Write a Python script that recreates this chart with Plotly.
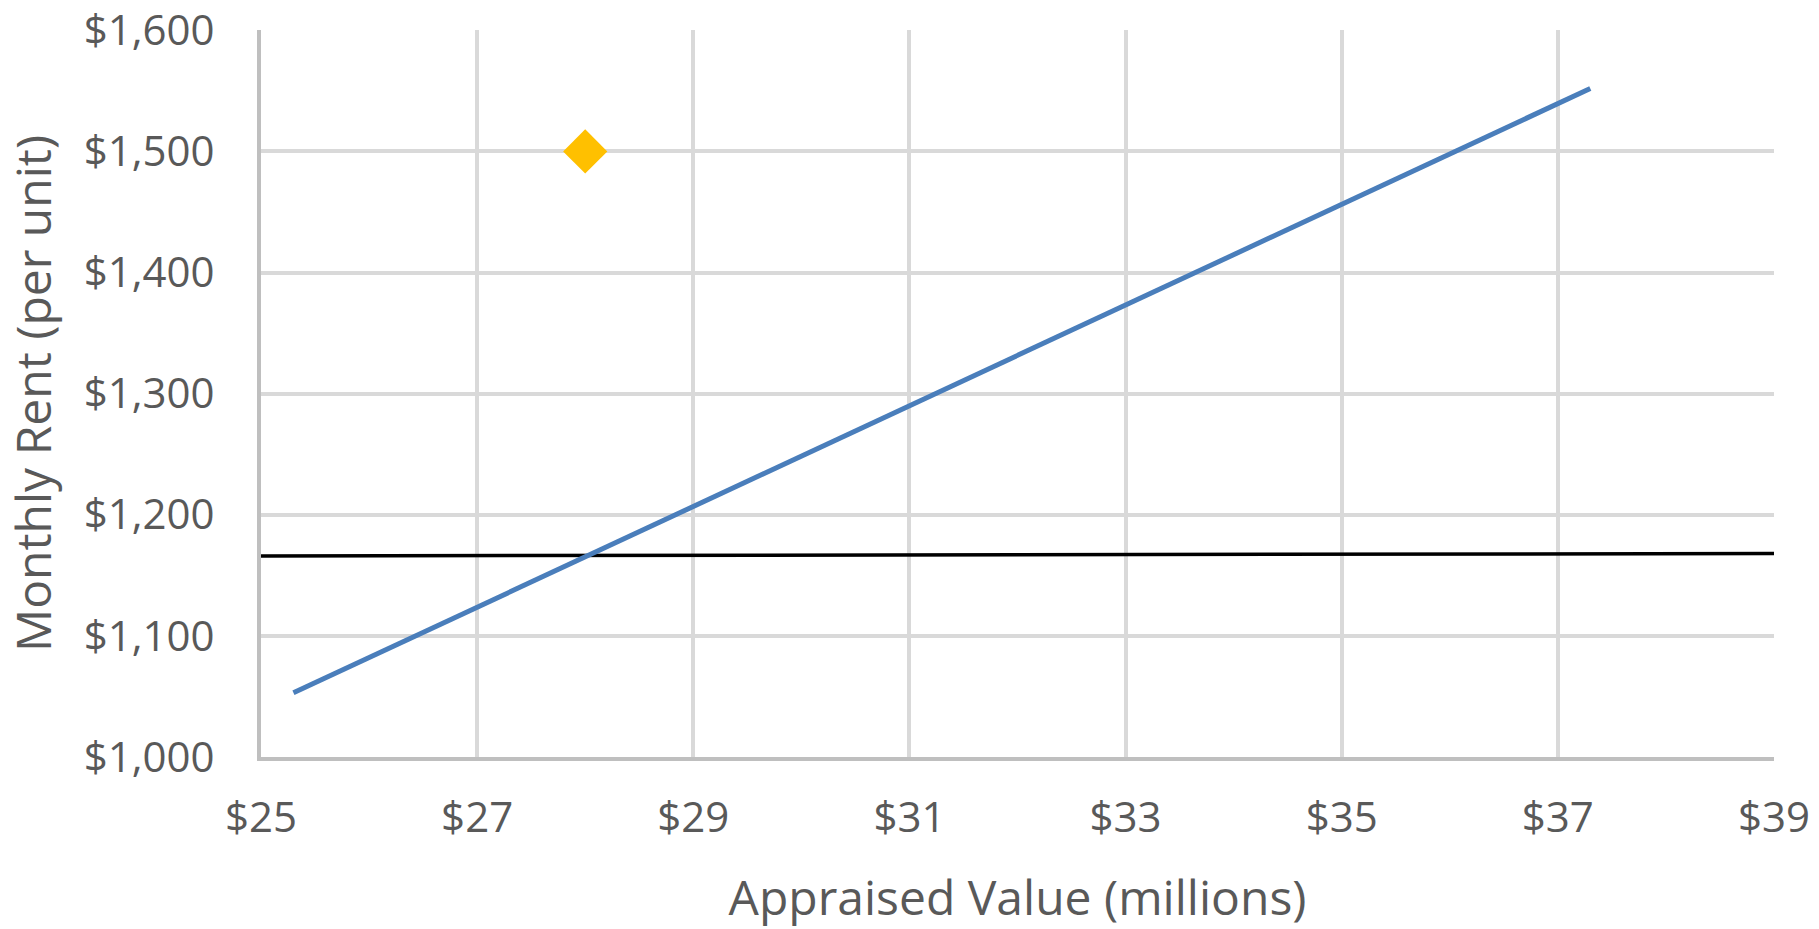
import plotly.graph_objects as go

# Data
trend_x = [25.3, 28.3, 31.3, 34.3, 37.3]
trend_y = [1053, 1178, 1303, 1428, 1552]

current_x = [28]
current_y = [1500]

level_x = [25.0, 39.1]
level_y = [1166, 1168]

x_ticks = [25, 27, 29, 31, 33, 35, 37, 39]
x_ticktext = ["$25", "$27", "$29", "$31", "$33", "$35", "$37", "$39"]
y_ticks = [1000, 1100, 1200, 1300, 1400, 1500, 1600]
y_ticktext = ["$1,000", "$1,100", "$1,200", "$1,300", "$1,400", "$1,500", "$1,600"]

FONT = "Open Sans"
TXT = "#595959"

fig = go.Figure()

fig.add_trace(go.Scatter(
    x=level_x, y=level_y, mode="lines",
    line=dict(color="#000000", width=3.5),
    showlegend=False, hoverinfo="skip",
))
fig.add_trace(go.Scatter(
    x=trend_x, y=trend_y, mode="lines",
    line=dict(color="#4a7ebb", width=5),
    showlegend=False,
))
fig.add_trace(go.Scatter(
    x=current_x, y=current_y, mode="markers",
    marker=dict(symbol="diamond", size=34, color="#ffc000", line=dict(width=0)),
    showlegend=False,
))

fig.update_layout(
    width=1819, height=929,
    margin=dict(l=261, r=45, t=30, b=172, autoexpand=False),
    paper_bgcolor="white", plot_bgcolor="white",
    font=dict(family=FONT, color=TXT),
)

fig.update_xaxes(
    range=[25, 39],
    tickvals=x_ticks, ticktext=x_ticktext,
    showgrid=True, gridcolor="#d9d9d9", gridwidth=4,
    showline=True, linecolor="#bfbfbf", linewidth=4,
    zeroline=False, ticks="",
    tickfont=dict(family=FONT, size=42, color=TXT),
    ticklabelstandoff=21,
    title=dict(text="Appraised Value (millions)", font=dict(family=FONT, size=48, color=TXT), standoff=40),
)
fig.update_yaxes(
    range=[1000, 1600.3],
    tickvals=y_ticks, ticktext=y_ticktext,
    showgrid=True, gridcolor="#d9d9d9", gridwidth=4,
    showline=True, linecolor="#bfbfbf", linewidth=4,
    zeroline=False, ticks="",
    tickfont=dict(family=FONT, size=42, color=TXT),
    ticklabelstandoff=34,
    title=dict(text="Monthly Rent (per unit)", font=dict(family=FONT, size=48, color=TXT), standoff=30),
)

fig.write_html("out.html")
